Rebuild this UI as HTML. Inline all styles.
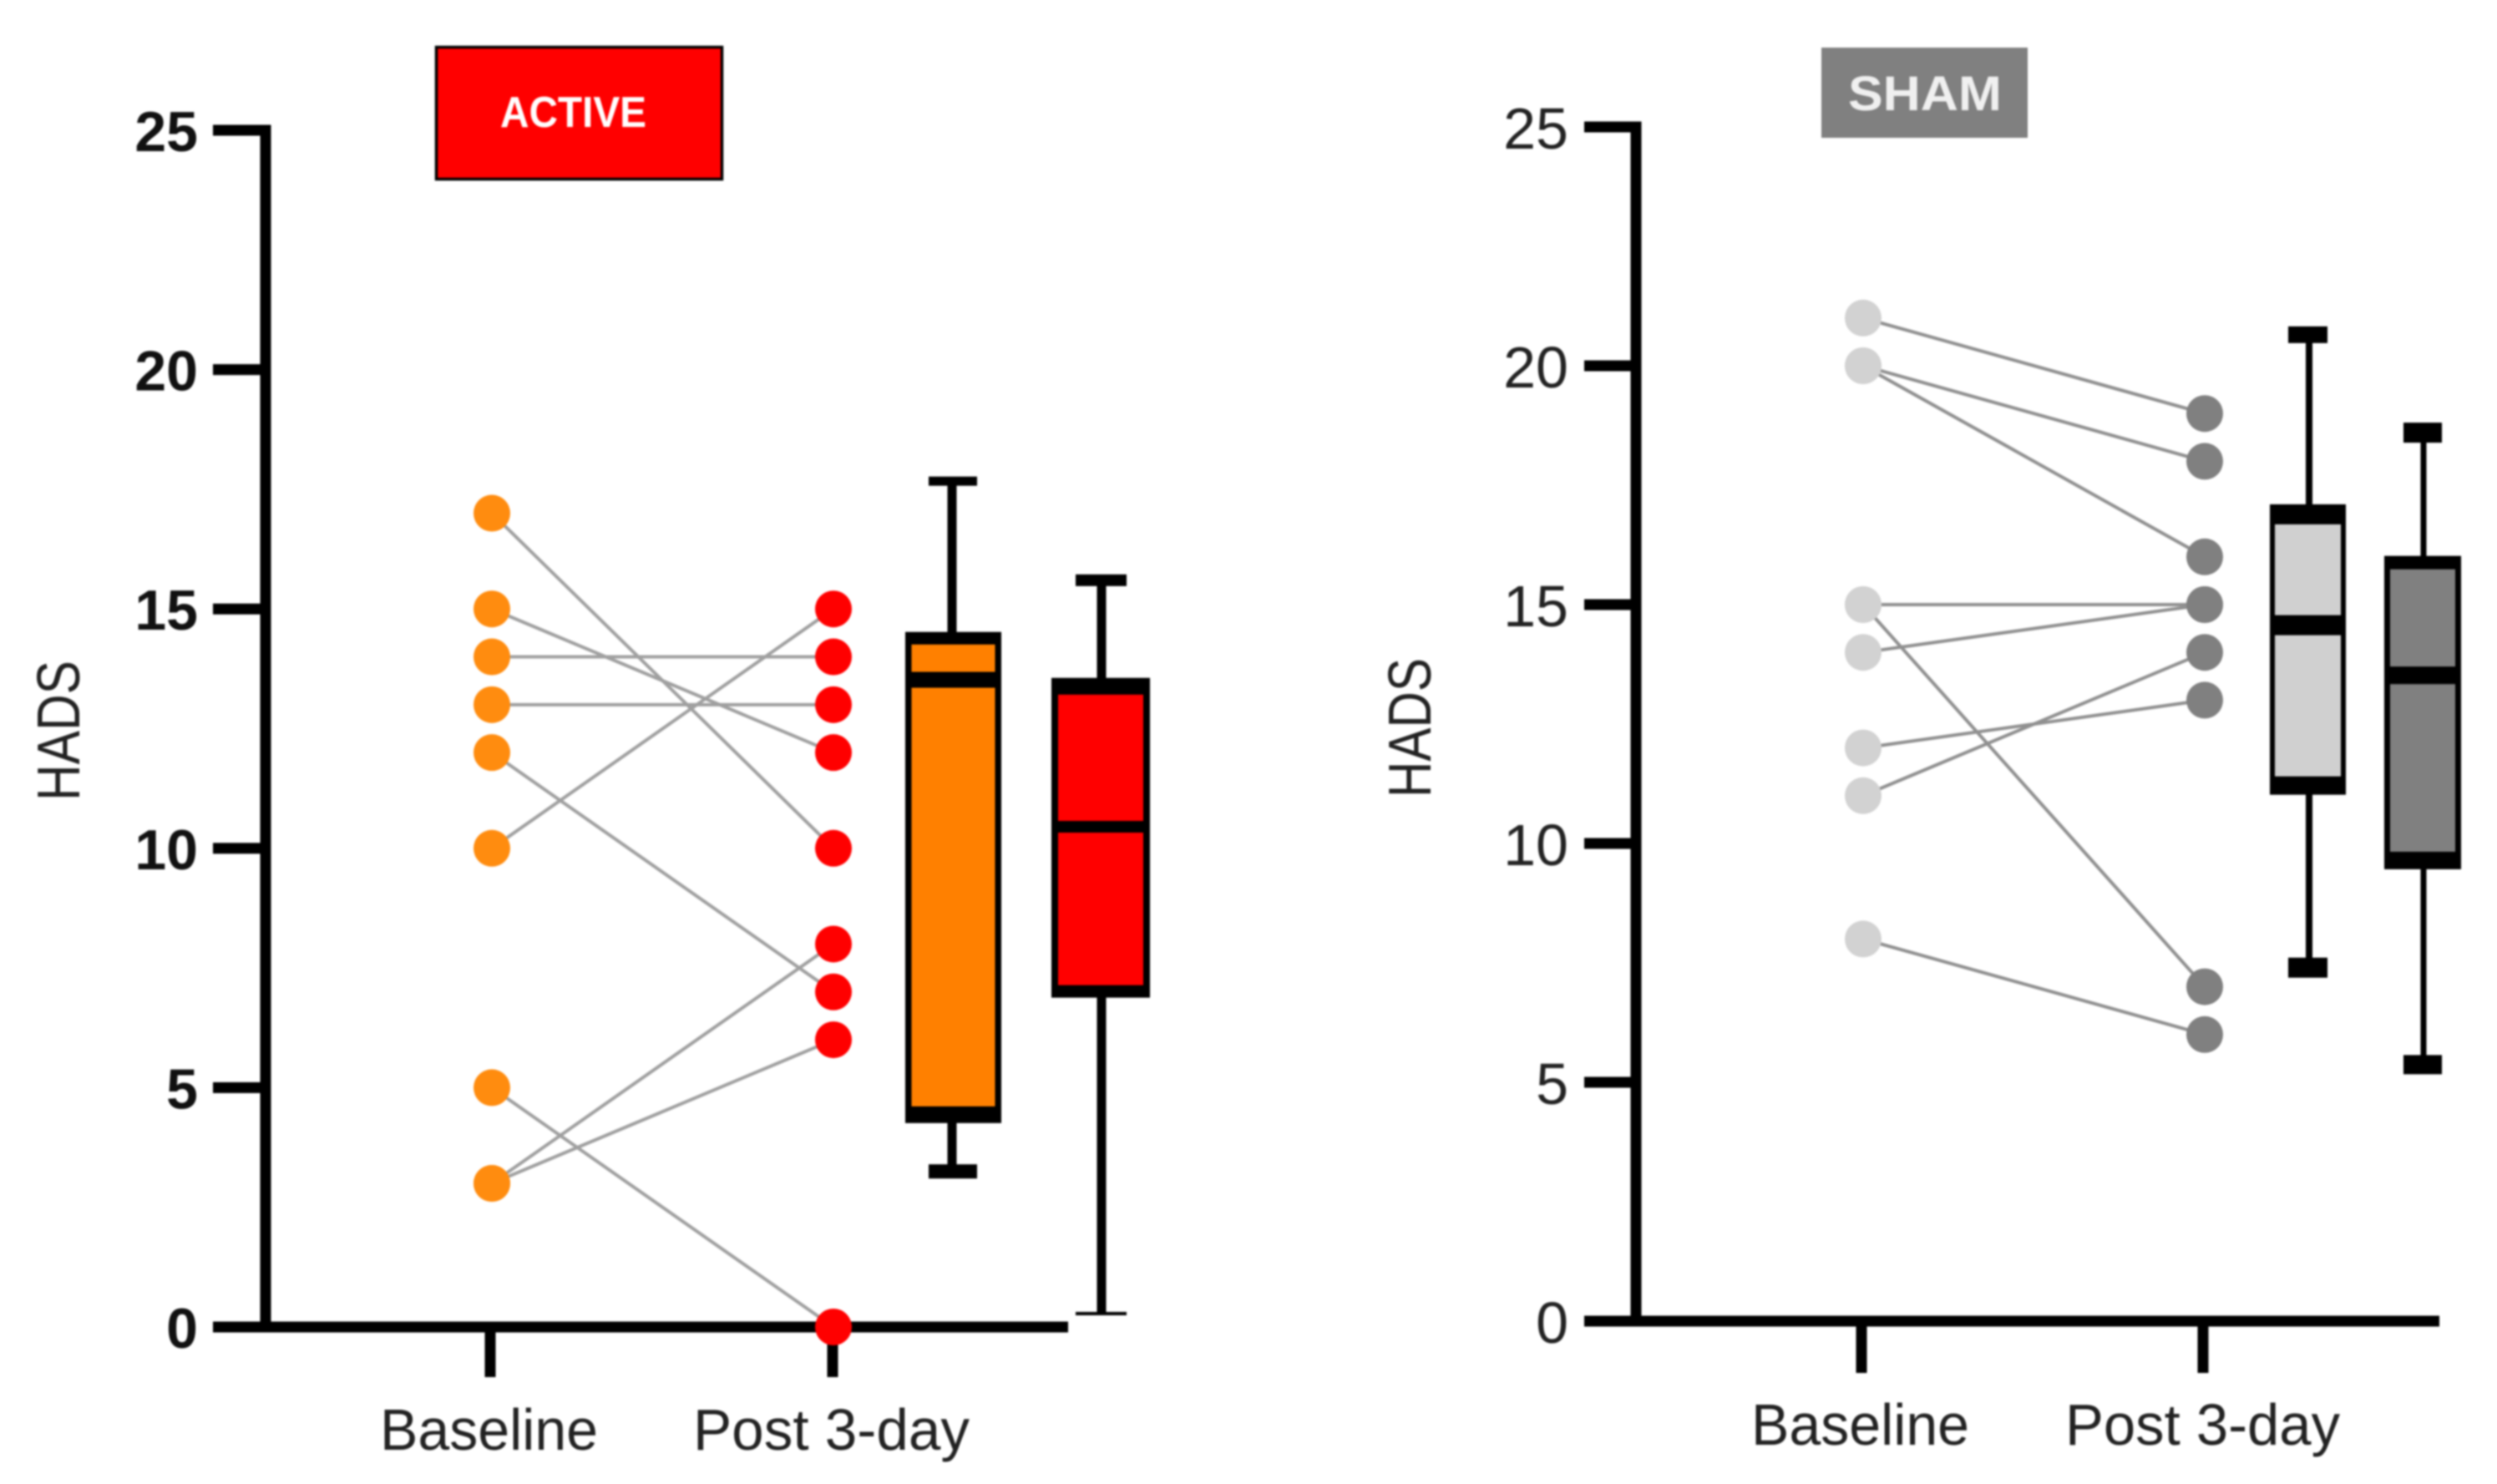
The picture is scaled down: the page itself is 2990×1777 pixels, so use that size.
<!DOCTYPE html>
<html lang="en">
<head>
<meta charset="utf-8">
<title>HADS: Active vs Sham</title>
<style>
html,body{margin:0;padding:0;background:#fff;width:2990px;height:1777px;overflow:hidden}
svg{display:block;filter:blur(1.1px)}
text{font-family:"Liberation Sans",sans-serif}
</style>
</head>
<body>
<svg id="chart" xmlns="http://www.w3.org/2000/svg" width="2990" height="1777" viewBox="0 0 2990 1777">
  <rect width="2990" height="1777" fill="#fff"/>
  <g id="active-panel">
    <rect x="522.5" y="56.5" width="342" height="158" fill="#ff0000" stroke="#000" stroke-width="3.5"/>
    <text x="599" y="152" font-size="52" font-weight="700" fill="#fff" textLength="175" lengthAdjust="spacingAndGlyphs">ACTIVE</text>
    <text transform="translate(95 959) rotate(-90)" font-size="72" fill="#222" textLength="168" lengthAdjust="spacingAndGlyphs">HADS</text>
    <text x="455" y="1736" font-size="70" fill="#222" textLength="261" lengthAdjust="spacingAndGlyphs">Baseline</text>
    <text x="830" y="1736" font-size="70" fill="#222" textLength="331" lengthAdjust="spacingAndGlyphs">Post 3-day</text>
  </g>
  <g id="sham-panel">
    <rect x="2181" y="57" width="247" height="108" fill="#808080"/>
    <text x="2213" y="132" font-size="58" font-weight="700" fill="#f0f0f0" textLength="184" lengthAdjust="spacingAndGlyphs">SHAM</text>
    <text transform="translate(1713 955) rotate(-90)" font-size="72" fill="#222" textLength="167" lengthAdjust="spacingAndGlyphs">HADS</text>
    <text x="2097" y="1730" font-size="70" fill="#222" textLength="261" lengthAdjust="spacingAndGlyphs">Baseline</text>
    <text x="2473" y="1730" font-size="70" fill="#222" textLength="329" lengthAdjust="spacingAndGlyphs">Post 3-day</text>
  </g>
</svg>
<script>
// Values
const tickValues = [0, 5, 10, 15, 20, 25];
const tickLabels = ["0", "5", "10", "15", "20", "25"];

const activeBaseline = [17, 15, 14, 13, 12, 10, 5, 3, 3];
const activePost = [10, 12, 14, 13, 7, 15, 0, 8, 6];
const shamBaseline = [21, 20, 20, 15, 15, 14, 12, 11, 8];
const shamPost = [19, 18, 16, 15, 7, 15, 13, 14, 6];

// min, q1, median, q3, max
const activeBaselineBox = [3.25, 4.26, 13.52, 14.52, 17.67];
const activePostBox = [0.28, 6.88, 10.45, 13.56, 15.6];
const shamBaselineBox = [7.4, 11.02, 14.57, 17.1, 20.65];
const shamPostBox = [5.37, 9.46, 13.52, 16.02, 18.6];

const SVGNS = 'http://www.w3.org/2000/svg';
function make(tag, parent, attrs) {
  const el = document.createElementNS(SVGNS, tag);
  for (const k in attrs) el.setAttribute(k, attrs[k]);
  parent.appendChild(el);
  return el;
}

function drawAxes(p, root) {
  const y = v => p.y0 - v * p.unit;
  const yAxis = make('rect', root, {x: p.axisX - 6.5, y: y(25) - 6.5, width: 13, height: p.y0 - y(25) + 13, fill: '#000'});
  
  
  const xAxis = make('rect', root, {x: p.tickStart, y: p.y0 - 6.5, width: p.axisEnd - p.tickStart, height: 13, fill: '#000'});
  
  
  tickValues.forEach((v, i) => {
    const t = make('rect', root, {x: p.tickStart, y: y(v) - 6.5, width: p.axisX - p.tickStart, height: 13, fill: '#000'});
    
    
    const label = make('text', root, {x: p.labelRight, y: y(v) + p.labelDy, 'font-size': p.labelSize, 'font-weight': p.labelWeight, 'text-anchor': 'end', fill: p.labelFill});
    label.textContent = tickLabels[i];
    
    
  });
  [p.tickBase, p.tickPost].forEach(x => {
    const t = make('rect', root, {x: x - 6.5, y: p.y0, width: 13, height: p.xTickBottom - p.y0, fill: '#000'});
    
    
  });
}

function drawPairs(p, root, base, post) {
  const y = v => p.y0 - v * p.unit;
  base.forEach((b, i) => {
    const l = make('line', root, {x1: p.xBase, y1: y(b), x2: p.xPost, y2: y(post[i]), stroke: p.lineColor, 'stroke-width': 4});
    
    
  });
  base.forEach(b => {
    const c = make('circle', root, {cx: p.xBase, cy: y(b), r: p.r, fill: p.baseColor});
    
    
  });
  post.forEach(v => {
    const c = make('circle', root, {cx: p.xPost, cy: y(v), r: p.r, fill: p.postColor});
    
    
  });
}

function drawBox(p, root, stats, s, name) {
  const y = v => p.y0 - v * p.unit;
  const [mn, q1, med, q3, mx] = stats;
  const g = make('g', root, {});
  
  
  const w = make('rect', g, {x: s.whiskerX - s.whiskerW / 2, y: y(mx), width: s.whiskerW, height: y(mn) - y(mx), fill: '#000'});
  
  
  const capHi = make('rect', g, {x: s.capL, y: y(mx) - s.capHiH / 2, width: s.capR - s.capL, height: s.capHiH, fill: '#000'});
  
  
  const capLo = make('rect', g, {x: s.capL, y: y(mn) - s.capLoH / 2, width: s.capR - s.capL, height: s.capLoH, fill: '#000'});
  
  
  const outer = make('rect', g, {x: s.left, y: y(q3), width: s.right - s.left, height: y(q1) - y(q3), fill: '#000'});
  
  
  const fill = make('rect', g, {x: s.left + s.side, y: y(q3) + s.top, width: s.right - s.left - 2 * s.side, height: y(q1) - y(q3) - s.top - s.bottom, fill: s.fill});
  
  
  const m = make('rect', g, {x: s.left, y: y(med) - s.medH / 2, width: s.right - s.left, height: s.medH, fill: '#000'});
  
  
}

const activePanel = {name: 'active', y0: 1589, unit: 57.32, axisX: 318, tickStart: 255, axisEnd: 1279, labelRight: 237, labelDy: 25, labelSize: 68, labelWeight: 700, labelFill: '#111', tickBase: 587, tickPost: 997, xTickBottom: 1649, xBase: 589, xPost: 998, r: 22, lineColor: '#a0a0a0', baseColor: '#ff8c0f', postColor: '#ff0000'};
const shamPanel = {name: 'sham', y0: 1582, unit: 57.2, axisX: 1959, tickStart: 1897, axisEnd: 2921, labelRight: 1878, labelDy: 26, labelSize: 70, labelWeight: 400, labelFill: '#222', tickBase: 2229, tickPost: 2638, xTickBottom: 1644, xBase: 2231, xPost: 2640, r: 22, lineColor: '#909090', baseColor: '#d2d2d2', postColor: '#808080'};

const activeRoot = document.getElementById('active-panel');
const shamRoot = document.getElementById('sham-panel');

drawAxes(activePanel, activeRoot);
drawPairs(activePanel, activeRoot, activeBaseline, activePost);
drawBox(activePanel, activeRoot, activeBaselineBox, {left: 1084, right: 1199, capL: 1112, capR: 1170, whiskerX: 1140, whiskerW: 11, top: 15, bottom: 20, side: 7.5, medH: 19, capHiH: 11, capLoH: 17, fill: '#ff8000'}, 'active-baseline-boxplot');
drawBox(activePanel, activeRoot, activePostBox, {left: 1259, right: 1377, capL: 1288, capR: 1349, whiskerX: 1319, whiskerW: 11, top: 20, bottom: 15, side: 8, medH: 14, capHiH: 14, capLoH: 4, fill: '#ff0000'}, 'active-post-boxplot');

drawAxes(shamPanel, shamRoot);
drawPairs(shamPanel, shamRoot, shamBaseline, shamPost);
drawBox(shamPanel, shamRoot, shamBaselineBox, {left: 2718, right: 2809, capL: 2740, capR: 2787, whiskerX: 2765, whiskerW: 8, top: 24, bottom: 22, side: 6, medH: 24, capHiH: 20, capLoH: 24, fill: '#d0d0d0'}, 'sham-baseline-boxplot');
drawBox(shamPanel, shamRoot, shamPostBox, {left: 2855, right: 2947, capL: 2878, capR: 2924, whiskerX: 2902, whiskerW: 7, top: 16, bottom: 21, side: 7, medH: 21, capHiH: 24, capLoH: 23, fill: '#808080'}, 'sham-post-boxplot');
</script>
</body>
</html>
